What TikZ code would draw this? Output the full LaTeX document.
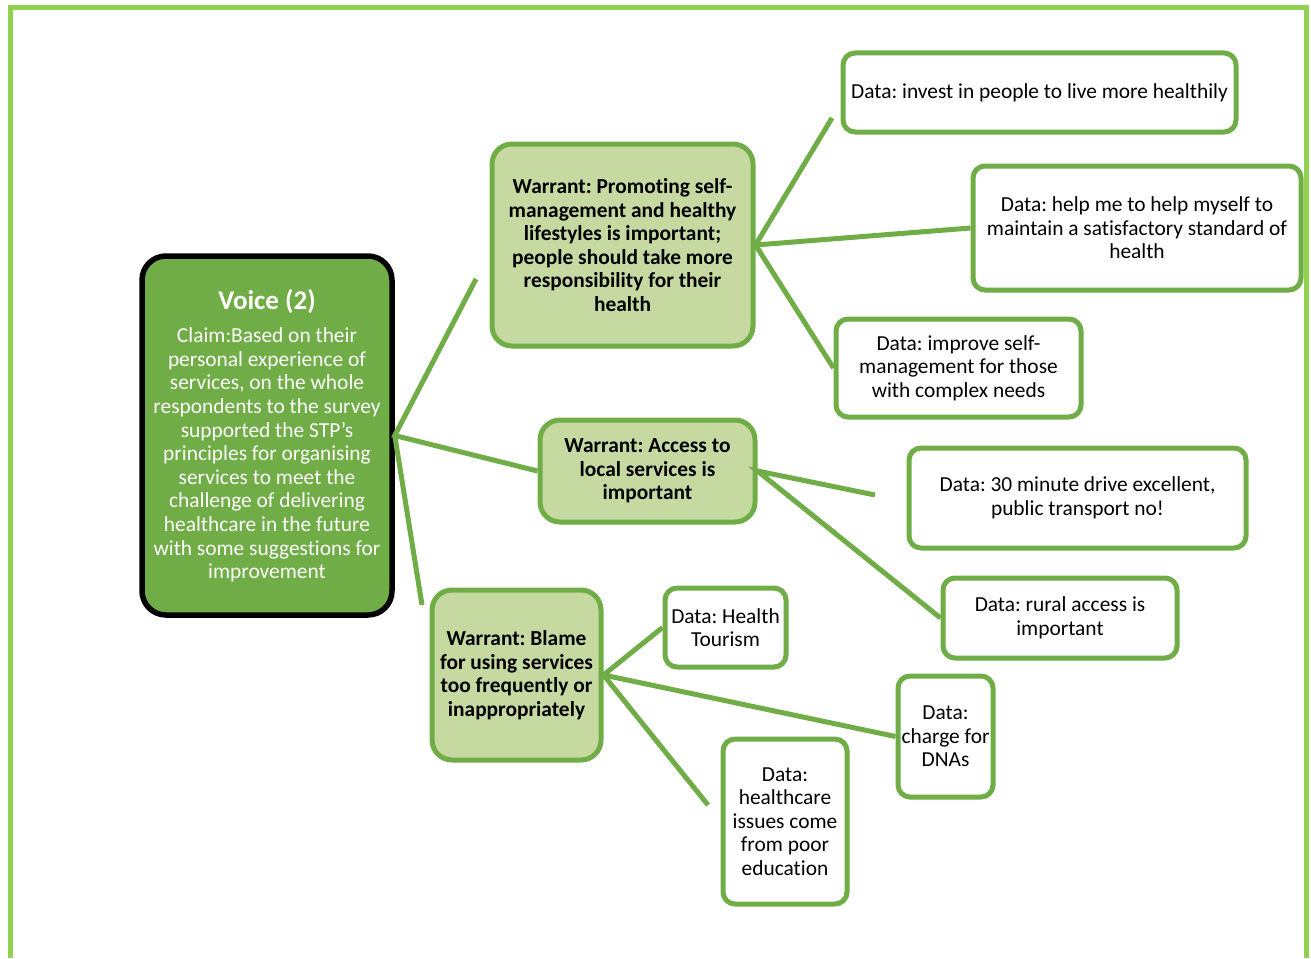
\documentclass[tikz,border=0pt]{standalone}
\usepackage{fontspec}
\setmainfont{Carlito}[Ligatures=NoCommon]
\frenchspacing
\definecolor{leaf}{HTML}{70AD47}
\definecolor{lime}{HTML}{92D050}
\definecolor{sage}{HTML}{C5D9A0}
\begin{document}
\begin{tikzpicture}[x=1pt,y=-1pt,
  txt/.style={font=\fontsize{21.4}{23.6}\selectfont, align=center, inner sep=0pt},
  claimbox/.style={txt, draw=black, line width=5.5pt, fill=leaf, text=white, rounded corners=24pt},
  warrantbox/.style={txt, font=\fontsize{21.4}{23.6}\selectfont\bfseries, draw=leaf, line width=5pt, fill=sage, rounded corners=20pt},
  databox/.style={txt, draw=leaf, line width=5pt, fill=white, rounded corners=12pt},
  link/.style={draw=leaf, line width=5pt},
  frame/.style={draw=lime, line width=5pt}]
\useasboundingbox (0,0) rectangle (1311,958);
% outer frame (open at the bottom)
\draw[frame] (10,958) -- (10,8) -- (1306,8) -- (1306,958);

% free ends of connectors
\coordinate (c1) at (476,279);
\coordinate (c3) at (422,605);
\coordinate (e1) at (832,118);
\coordinate (f1) at (875,495);
\coordinate (g3) at (708,805);

% claim
\node[claimbox, minimum width=250pt, minimum height=359pt] (claim) at (267,435.5)
  {{\fontsize{27}{30}\selectfont\bfseries Voice (2)}\\[10pt]
   Claim:Based on their\\ personal experience of\\ services, on the whole\\
   respondents to the survey\\ supported the STP’s\\ principles for organising\\
   services to meet the\\ challenge of delivering\\ healthcare in the future\\
   with some suggestions for\\ improvement};

% warrants
\node[warrantbox, minimum width=261pt, minimum height=202pt] (w1) at (622.5,245)
  {Warrant: Promoting self-\\ management and healthy\\ lifestyles is important;\\
   people should take more\\ responsibility for their\\ health};
\node[warrantbox, minimum width=215pt, minimum height=102pt] (w2) at (647.5,471)
  {Warrant: Access to\\ local services is\\ important};
\node[warrantbox, minimum width=169pt, minimum height=170pt] (w3) at (516.5,675)
  {Warrant: Blame\\ for using services\\ too frequently or\\ inappropriately};

% data
\node[databox, minimum width=393pt, minimum height=79pt] (d1) at (1039.5,92.5)
  {Data: invest in people to live more healthily};
\node[databox, minimum width=328pt, minimum height=124pt] (d2) at (1137,228)
  {Data: help me to help myself to\\ maintain a satisfactory standard of\\ health};
\node[databox, minimum width=245pt, minimum height=98pt] (d3) at (958.5,368)
  {Data: improve self-\\ management for those\\ with complex needs};
\node[databox, minimum width=337pt, minimum height=100pt] (d4) at (1077.5,498)
  {Data: 30 minute drive excellent,\\ public transport no!};
\node[databox, minimum width=234pt, minimum height=80pt] (d5) at (1060,618)
  {Data: rural access is\\ important};
\node[databox, minimum width=95pt, minimum height=121pt] (d6) at (945.5,736.5)
  {Data:\\ charge for\\ DNAs};
\node[databox, minimum width=121pt, minimum height=79pt] (d7) at (725.5,627.5)
  {Data: Health\\ Tourism};
\node[databox, minimum width=124pt, minimum height=165pt] (d8) at (785,821.5)
  {Data:\\ healthcare\\ issues come\\ from poor\\ education};

% connectors
\draw[link] (c1) -- (claim.east) -- (w2.west);
\draw[link] (claim.east) -- (c3);
\draw[link] (e1) -- (w1.east) -- (d2.west);
\draw[link] (w1.east) -- (d3.west);
\draw[link] (f1) -- (w2.east) -- (d5.west);
\draw[link] (d7.west) -- (w3.east) -- (d6.west);
\draw[link] (w3.east) -- (g3);
\end{tikzpicture}
\end{document}
